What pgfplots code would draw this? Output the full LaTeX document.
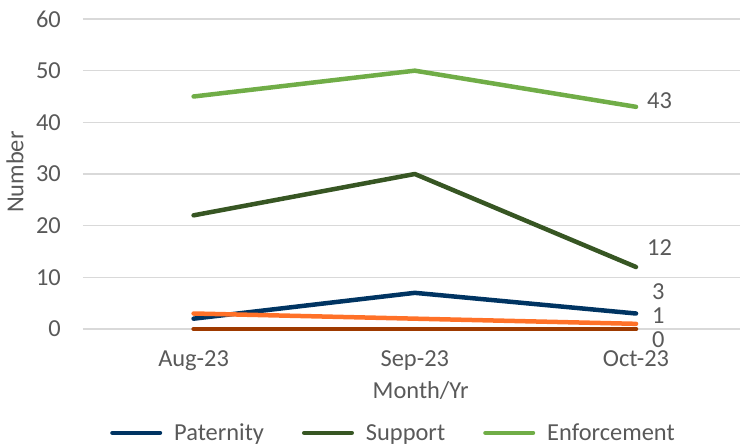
\documentclass[border=0pt]{standalone}
\usepackage{fontspec}
\setmainfont{Carlito}
\usepackage{pgfplots}
\pgfplotsset{compat=1.18}
\definecolor{txt}{HTML}{595959}
\definecolor{gridc}{HTML}{D9D9D9}
\definecolor{pat}{HTML}{003462}
\definecolor{sup}{HTML}{375623}
\definecolor{enf}{HTML}{70AD47}
\definecolor{ora}{HTML}{FF7128}
\definecolor{bro}{HTML}{9E3A00}
\begin{document}
\begin{tikzpicture}[font=\fontsize{24.5}{29}\selectfont]
\useasboundingbox (-83bp,-117bp) rectangle (657bp,329bp);
\begin{axis}[
  scale only axis, width=657bp, height=310bp,
  at={(0,0)}, anchor=south west,
  xmin=-0.5, xmax=2.47, ymin=0, ymax=60,
  xtick={0,1,2}, xticklabels={Aug-23,Sep-23,Oct-23},
  ytick={0,10,...,60},
  ymajorgrids, grid style={draw=gridc, line width=1.2bp},
  axis line style={draw=none}, major tick length=0pt,
  tick label style={text=txt, inner sep=0pt},
  yticklabel style={xshift=-22bp, anchor=east},
  xticklabel style={yshift=-21bp, anchor=north},
  /pgf/number format/assume math mode=true,
  xlabel={Month/Yr}, ylabel={Number},
  label style={text=txt},
  xlabel style={at={(axis description cs:0.514,-0.2)}, anchor=center},
  ylabel style={at={(axis description cs:-0.1035,0.506)}, anchor=center},
  clip=false,
  every axis plot/.append style={line width=4.5bp, line cap=round, line join=round},
  legend style={draw=none, fill=none, at={(axis description cs:0.471,-0.335)}, anchor=center,
    text=txt, inner sep=0pt, nodes={inner sep=0pt},
    /tikz/every even column/.append style={column sep=38bp}},
  legend columns=3,
  legend image code/.code={\draw[#1, line cap=round] (2.25bp,0bp) -- (49.75bp,0bp);},
]
\addplot[pat] coordinates {(0,2) (1,7) (2,3)};
\addlegendentry{\hspace{12bp}Paternity}
\addplot[sup] coordinates {(0,22) (1,30) (2,12)};
\addlegendentry{\hspace{12bp}Support}
\addplot[enf] coordinates {(0,45) (1,50) (2,43)};
\addlegendentry{\hspace{12bp}Enforcement}
\addplot[ora, forget plot] coordinates {(0,3) (1,2) (2,1)};
\addplot[bro, forget plot] coordinates {(0,0) (1,0) (2,0)};
\node[anchor=west, text=txt, inner sep=0pt] at (axis cs:2,44.1) [xshift=11bp] {43};
\node[anchor=west, text=txt, inner sep=0pt] at (axis cs:2,15.7) [xshift=11bp] {12};
\node[anchor=west, text=txt, inner sep=0pt] at (axis cs:2,7.2) [xshift=16bp] {3};
\node[anchor=west, text=txt, inner sep=0pt] at (axis cs:2,2.5) [xshift=16bp] {1};
\node[anchor=west, text=txt, inner sep=0pt] at (axis cs:2,-2.1) [xshift=16bp] {0};
\end{axis}
\end{tikzpicture}
\end{document}
